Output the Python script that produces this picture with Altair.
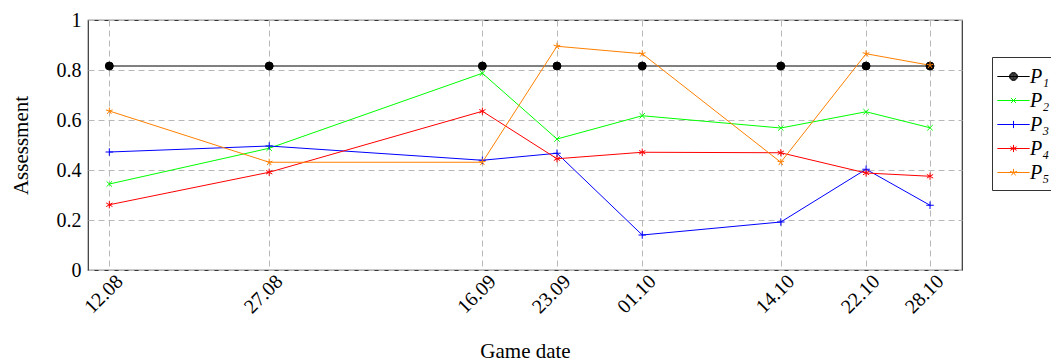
import altair as alt
import pandas as pd

dates = ["2021-08-12", "2021-08-27", "2021-09-16", "2021-09-23",
         "2021-10-01", "2021-10-14", "2021-10-22", "2021-10-28"]
series = ["P₁", "P₂", "P₃", "P₄", "P₅"]
p1 = [0.816, 0.816, 0.816, 0.816, 0.816, 0.816, 0.816, 0.816]
p2 = [0.344, 0.487, 0.787, 0.524, 0.617, 0.568, 0.633, 0.569]
p3 = [0.472, 0.496, 0.439, 0.467, 0.140, 0.192, 0.403, 0.259]
p4 = [0.261, 0.391, 0.635, 0.445, 0.471, 0.469, 0.388, 0.375]
p5 = [0.636, 0.431, 0.431, 0.895, 0.865, 0.431, 0.865, 0.819]
colors = ["#000000", "#00ff00", "#0000ff", "#ff0000", "#ff8000"]
y_ticks = [0, 0.2, 0.4, 0.6, 0.8, 1]
x_domain = ["2021-08-10", "2021-10-31"]

def ms(s):
    return int(pd.Timestamp(s, tz="UTC").timestamp() * 1000)

rows = []
for name, vals in zip(series, [p1, p2, p3, p4, p5]):
    for d, v in zip(dates, vals):
        rows.append({"date": ms(d), "series": name, "value": v})
df = pd.DataFrame(rows)

# marker shapes (chart) and legend shapes (line + marker)
mark_paths = [
    "circle",
    "M-0.7,-0.7L0.7,0.7M-0.7,0.7L0.7,-0.7",
    "M-1,0L1,0M0,-1L0,1",
    "M0,-1L0,1M-0.866,-0.5L0.866,0.5M-0.866,0.5L0.866,-0.5",
    "M0,0L0,-1M0,0L-0.951,-0.309M0,0L-0.588,0.809M0,0L0.588,0.809M0,0L0.951,-0.309",
]

def scale_path(p, f):
    out = []
    num = ""
    for ch in p:
        if ch.isdigit() or ch in ".-":
            if ch == "-" and num:
                out.append(str(round(float(num) * f, 4)))
                num = ""
            num += ch
        else:
            if num:
                out.append(str(round(float(num) * f, 4)))
                num = ""
            out.append(ch)
    if num:
        out.append(str(round(float(num) * f, 4)))
    return "".join(out)

def ring(r):
    return "M-%s,0A%s,%s 0 1,0 %s,0A%s,%s 0 1,0 -%s,0Z" % ((r,) * 7)

L = 1.35
circle_leg = "".join(ring(r) for r in [0.04, 0.1, 0.16, 0.22, 0.28, 0.33])
legend_paths = ["M-%s,0L%s,0" % (L, L) + circle_leg] + [
    "M-%s,0L%s,0" % (L, L) + scale_path(p, 0.3) for p in mark_paths[1:]
]

x_enc = alt.X("date:Q", scale=alt.Scale(type="utc", domain=[ms(x_domain[0]), ms(x_domain[1])], nice=False),
              axis=alt.Axis(values=[ms(d) for d in dates],
                            labelExpr="utcFormat(datum.value, '%d.%m')",
                            labelAngle=-45, labelAlign="right", labelBaseline="middle",
                            labelOffset=10, labelPadding=8, title="Game date",
                            titlePadding=24, tickSize=0))
y_enc = alt.Y("value:Q", scale=alt.Scale(domain=[0, 1], nice=False),
              axis=alt.Axis(values=y_ticks, format="~g", title="Assessment",
                            titlePadding=25, labelPadding=7, tickSize=0))

color_scale = alt.Scale(domain=series, range=colors)

lines = alt.Chart(df).mark_line(strokeWidth=1).encode(
    x=x_enc, y=y_enc,
    color=alt.Color("series:N", scale=color_scale, legend=None),
    detail="series:N",
)

points = alt.Chart(df).mark_point(filled=False, fill="black", fillOpacity=1, opacity=1, strokeWidth=1).encode(
    x=x_enc, y=y_enc,
    color=alt.Color("series:N", scale=color_scale, legend=None),
    shape=alt.Shape("series:N", scale=alt.Scale(domain=series, range=mark_paths), legend=None),
    size=alt.Size("series:N", scale=alt.Scale(domain=series, range=[64, 49, 49, 49, 49]), legend=None),
)

legend_layer = alt.Chart(df).transform_filter("false").mark_point(
    filled=False, opacity=1, strokeWidth=1).encode(
    x=x_enc, y=y_enc,
    color=alt.Color("series:N", scale=alt.Scale(domain=series, range=colors),
                    legend=alt.Legend(title=None, orient="none", legendX=904, legendY=37)),
    shape=alt.Shape("series:N", scale=alt.Scale(domain=series, range=legend_paths),
                    legend=alt.Legend(title=None, orient="none", legendX=904, legendY=37)),
)

chart = alt.layer(lines, points, legend_layer).resolve_scale(
    color="independent", shape="independent"
).properties(
    width=874, height=250,
    autosize=alt.AutoSizeParams(type="none"),
    padding={"left": 80, "top": 12, "right": 89, "bottom": 93},
).configure_view(
    stroke="#333333", strokeWidth=1.2
).configure_axis(
    labelFont="Liberation Serif", titleFont="Liberation Serif",
    labelFontSize=20, titleFontSize=21, labelColor="black", titleColor="black",
    titleFontWeight="normal", domain=False,
    gridColor="#b8b8b8", gridDash=[6, 4], gridWidth=1,
).configure_legend(
    labelFont="Liberation Serif", labelFontStyle="italic", labelFontSize=20,
    labelColor="black", strokeColor="#333333", fillColor="white", padding=7,
    symbolSize=576, symbolStrokeWidth=1, symbolOffset=2, labelOffset=4, rowPadding=1,
)

chart.save("out.html", embed_options={"renderer": "svg", "actions": False})
